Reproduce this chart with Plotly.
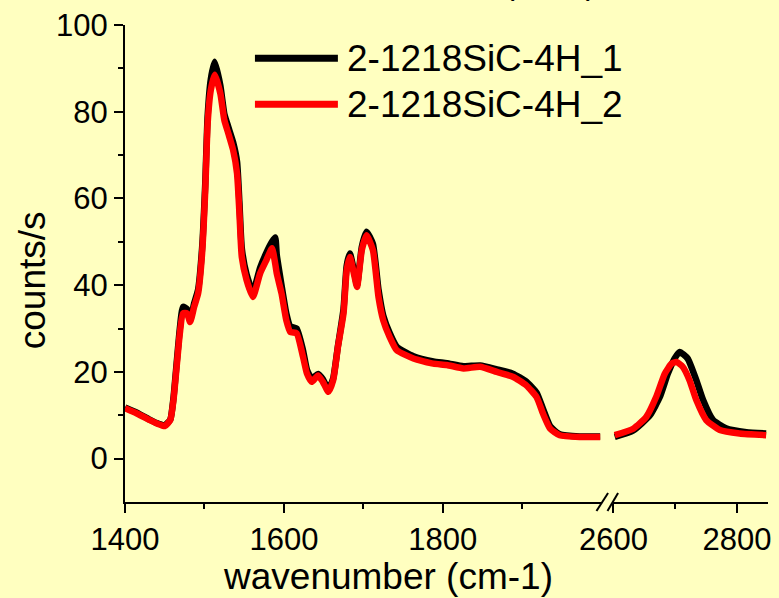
import plotly.graph_objects as go

# ---------------- data ----------------
wn_low = [1400, 1415, 1431, 1440, 1450, 1457, 1461, 1465, 1469, 1473, 1478, 1482, 1487, 1492,
          1497, 1501, 1504, 1508, 1513, 1520, 1525, 1530, 1536, 1541, 1544, 1547, 1553, 1561,
          1570, 1578, 1585, 1589, 1591, 1597, 1603, 1608, 1616, 1624, 1629, 1635, 1643, 1649,
          1656, 1662, 1668, 1675, 1679, 1683, 1688, 1692, 1698, 1704, 1712, 1719, 1725, 1733,
          1742, 1763, 1788, 1805, 1826, 1847, 1868, 1888, 1905, 1918, 1926, 1935, 1947, 1972, 1998]

s1_low = [11.8, 10.6, 9.0, 8.2, 7.7, 9.0, 14.0, 22.0, 30.0, 35.0, 34.5, 32.0, 35.8, 39.0,
          48.5, 63.5, 79.0, 87.5, 91.5, 86.0, 79.5, 76.5, 73.0, 68.5, 59.0, 48.5, 42.5, 38.5,
          44.0, 47.5, 50.0, 51.0, 47.0, 40.0, 33.5, 30.5, 30.0, 25.0, 20.5, 18.5, 19.5, 18.3,
          16.0, 18.5, 26.0, 34.5, 44.5, 47.3, 43.5, 40.0, 48.8, 52.3, 49.5, 39.0, 33.0, 29.0,
          25.8, 23.6, 22.4, 22.0, 21.3, 21.5, 20.6, 19.6, 17.8, 15.2, 11.5, 7.5, 5.6, 5.1, 5.1]

s2_low = [11.6, 10.4, 8.9, 8.1, 7.5, 8.9, 13.5, 21.2, 28.9, 33.5, 33.5, 31.5, 35.0, 38.1,
          47.3, 61.9, 77.3, 85.0, 88.5, 84.2, 78.1, 75.0, 71.2, 65.8, 56.6, 46.5, 41.2, 37.3,
          42.7, 45.8, 48.5, 45.0, 42.7, 38.1, 31.9, 29.2, 28.9, 23.5, 19.6, 17.7, 19.2, 17.7,
          15.4, 18.1, 25.8, 33.5, 43.5, 46.5, 42.7, 39.6, 48.1, 51.5, 48.1, 37.3, 31.9, 28.1,
          25.0, 23.1, 21.9, 21.6, 20.8, 21.2, 20.0, 18.9, 16.9, 14.2, 10.4, 6.9, 5.4, 5.0, 5.0]

wn_high_1 = [2602, 2632, 2659, 2675, 2688, 2699, 2707, 2720, 2734, 2745, 2761, 2782, 2815, 2847]
s1_high = [5.0, 6.5, 10.0, 14.2, 19.6, 23.1, 24.6, 23.1, 18.1, 13.5, 8.9, 7.0, 6.1, 5.8]

wn_high_2 = [2602, 2632, 2653, 2669, 2683, 2694, 2702, 2712, 2723, 2734, 2750, 2772, 2804, 2847]
s2_high = [5.4, 6.9, 9.6, 14.2, 19.6, 21.9, 22.3, 21.2, 18.1, 13.5, 8.9, 6.6, 5.8, 5.4]

names = ["2-1218SiC-4H_1", "2-1218SiC-4H_2"]
colors = ["#000000", "#FF0000"]

x_ticks_low = [1400, 1600, 1800]
x_minor_low = [1500, 1700, 1900]
x_ticks_high = [2600, 2800]
x_minor_high = [2700]
y_ticks = [0, 20, 40, 60, 80, 100]
y_minor = [10, 30, 50, 70, 90]

# ---------------- layout geometry (page pixels) ----------------
W, H = 779, 598
L, R, T, B = 125, 768.3, 25, 501.7   # plot area
PW, PH = R - L, B - T


def px(xp):
    return (xp - L) / PW


def py(yp):
    return (B - yp) / PH


BG = "#FFFFC0"
FONT = "Liberation Sans, Arial, sans-serif"
LW = 6.5

fig = go.Figure()
series = [(wn_low, s1_low, wn_high_1, s1_high), (wn_low, s2_low, wn_high_2, s2_high)]
for (xl, yl, xh, yh), name, col in zip(series, names, colors):
    fig.add_trace(go.Scatter(x=xl, y=yl, mode="lines", name=name, xaxis="x", yaxis="y",
                             line=dict(color=col, width=LW, shape="spline", smoothing=0.5),
                             showlegend=False))
    fig.add_trace(go.Scatter(x=xh, y=yh, mode="lines", name=name, xaxis="x2", yaxis="y",
                             line=dict(color=col, width=LW, shape="spline", smoothing=0.5),
                             showlegend=False))

axis_common = dict(showline=True, linecolor="black", linewidth=2, ticks="outside",
                   ticklen=9, tickwidth=2, tickcolor="black", showgrid=False, zeroline=False,
                   ticklabeloverflow="allow", automargin=False,
                   tickfont=dict(family=FONT, size=31, color="black"))
minor_common = dict(ticklen=5, tickwidth=2, tickcolor="black", ticks="outside")

fig.update_layout(
    width=W, height=H,
    margin=dict(l=L, r=W - R, t=T, b=H - B, pad=0),
    paper_bgcolor=BG, plot_bgcolor=BG,
    showlegend=False,
    xaxis=dict(domain=[0, px(602)], range=[1400, 2000], tickvals=x_ticks_low,
               minor=dict(tickvals=x_minor_low, **minor_common),
               anchor="y", **axis_common),
    xaxis2=dict(domain=[px(613.7), 1], range=[2600, 2850], tickvals=x_ticks_high,
                minor=dict(tickvals=x_minor_high, **minor_common),
                anchor="y", **axis_common),
    yaxis=dict(range=[-10, 100], tickvals=y_ticks,
               minor=dict(tickvals=y_minor, **minor_common),
               anchor="x", **axis_common),
)

shapes = []
# axis break marks
for x0, x1 in [(596.7, 608.3), (607.7, 618.3)]:
    shapes.append(dict(type="line", xref="paper", yref="paper",
                       x0=px(x0), y0=py(510.7), x1=px(x1), y1=py(492.7),
                       line=dict(color="black", width=2)))
# custom legend line samples
for yy, col in [(58.3, colors[0]), (104.3, colors[1])]:
    shapes.append(dict(type="line", xref="paper", yref="paper",
                       x0=px(255), x1=px(338), y0=py(yy), y1=py(yy),
                       line=dict(color=col, width=7)))
fig.update_layout(shapes=shapes)

ann = []
for yy, name in [(58.3, names[0]), (104.3, names[1])]:
    ann.append(dict(text=name, xref="paper", yref="paper", x=px(345), y=py(yy),
                    xanchor="left", yanchor="middle", showarrow=False,
                    font=dict(family=FONT, size=37, color="black")))
ann.append(dict(text="wavenumber (cm-1)", xref="paper", yref="paper", x=px(388), y=py(576),
                xanchor="center", yanchor="middle", showarrow=False,
                font=dict(family=FONT, size=37, color="black")))
ann.append(dict(text="counts/s", xref="paper", yref="paper", x=px(32), y=py(280),
                xanchor="center", yanchor="middle", textangle=-90, showarrow=False,
                font=dict(family=FONT, size=37, color="black")))
ann.append(dict(text="(1218)", xref="paper", yref="paper", x=px(551), y=py(3),
                xanchor="center", yanchor="bottom", showarrow=False,
                font=dict(family=FONT, size=32, color="black")))
fig.update_layout(annotations=ann)

fig.write_html(
    "out.html",
    config={"displayModeBar": False},
    post_script="document.body.style.margin='0px';document.body.style.background='#FFFFC0';",
)
